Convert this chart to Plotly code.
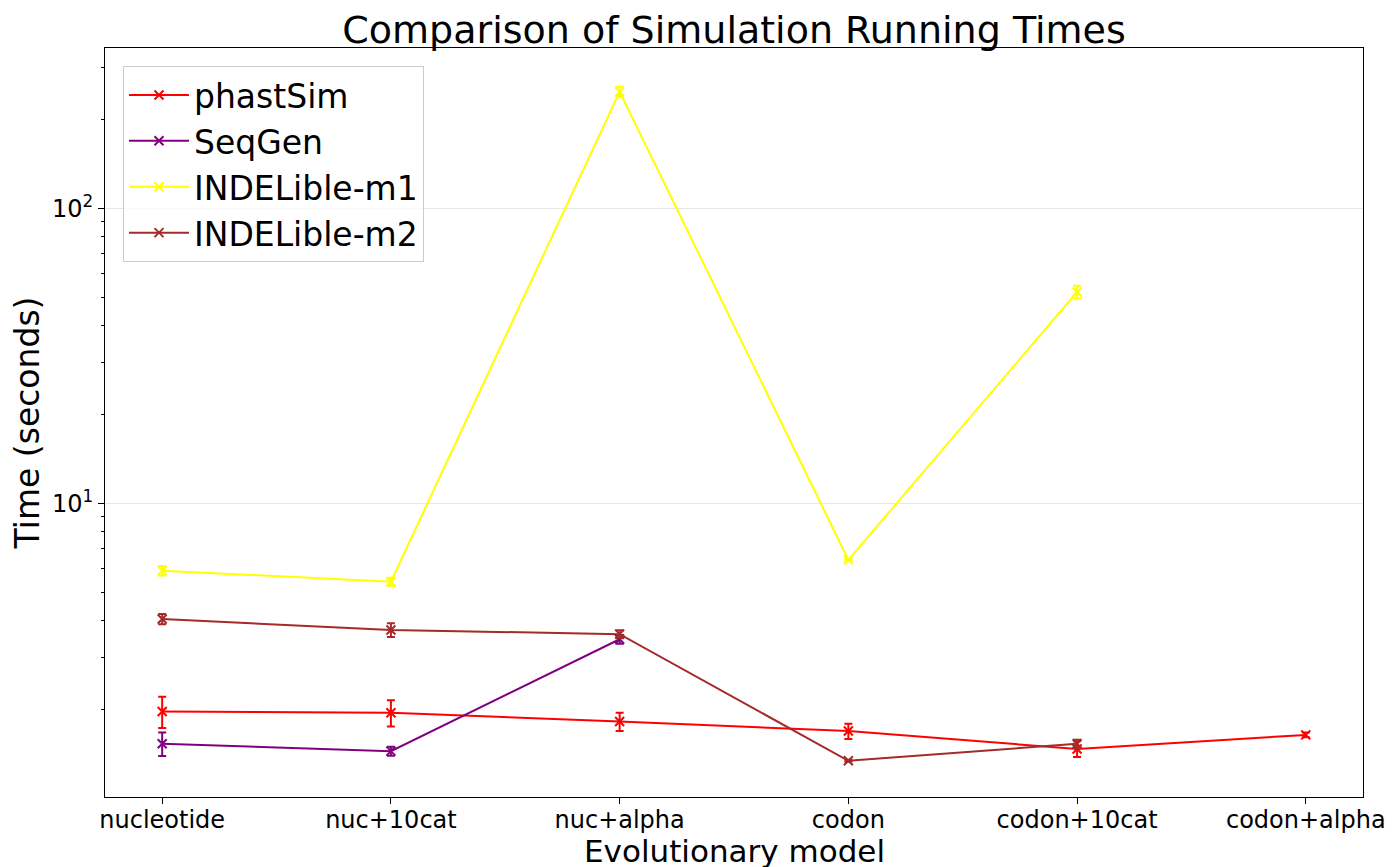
import plotly.graph_objects as go

categories = ["nucleotide", "nuc+10cat", "nuc+alpha", "codon", "codon+10cat", "codon+alpha"]

phastsim = [1.97, 1.95, 1.82, 1.69, 1.47, 1.64]
phastsim_err = [0.24, 0.20, 0.13, 0.10, 0.09, 0.03]

seqgen = [1.53, 1.445, 3.46]
seqgen_err = [0.14, 0.05, 0.12]

indelible_m1 = [5.91, 5.42, 248.0, 6.43, 52.0]
indelible_m1_err = [0.22, 0.17, 10.0, 0.05, 2.6]

indelible_m2 = [4.05, 3.72, 3.60, 1.34, 1.53]
indelible_m2_err = [0.16, 0.20, 0.11, 0.01, 0.05]

series = [
    ("phastSim", phastsim, phastsim_err, "red"),
    ("SeqGen", seqgen, seqgen_err, "purple"),
    ("INDELible-m1", indelible_m1, indelible_m1_err, "yellow"),
    ("INDELible-m2", indelible_m2, indelible_m2_err, "brown"),
]

fig = go.Figure()
for name, vals, errs, color in series:
    xs = list(range(len(vals)))
    fig.add_trace(go.Scatter(
        x=xs, y=vals, name=name, mode="lines+markers",
        line=dict(color=color, width=2),
        marker=dict(symbol="x-thin", size=9, line=dict(color=color, width=2), color=color),
        error_y=dict(type="data", array=errs, visible=True, color=color, thickness=2, width=4),
    ))

font = "DejaVu Sans, Liberation Sans, sans-serif"
fig.update_layout(
    width=1400, height=867,
    margin=dict(l=97, r=45, t=40, b=78),
    paper_bgcolor="white", plot_bgcolor="white",
    font=dict(family=font, color="black"),
    title=dict(text="Comparison of Simulation Running Times", x=0.5, xanchor="center",
               xref="paper",
               y=0.975, yanchor="middle", font=dict(size=38, family=font, color="black")),
    showlegend=True,
    legend=dict(x=0.0143, y=0.976, xanchor="left", yanchor="top",
                bgcolor="rgba(255,255,255,0.8)", bordercolor="#cccccc", borderwidth=1,
                font=dict(size=33, family=font), itemwidth=60, tracegroupgap=0),
    xaxis=dict(
        tickmode="array", tickvals=list(range(len(categories))), ticktext=categories,
        range=[-0.25, 5.25], showgrid=False, zeroline=False,
        showline=True, linecolor="black", linewidth=1, mirror=True,
        ticks="outside", ticklen=6, tickcolor="black",
        tickfont=dict(size=24, family=font), ticklabelstandoff=-5,
    ),
    yaxis=dict(
        type="log", range=[0.0044, 2.543],
        tickmode="array", tickvals=[10, 100], ticktext=["10<sup>1</sup>", "10<sup>2</sup>"],
        showgrid=True, gridcolor="#e6e6e6", gridwidth=1, zeroline=False,
        showline=True, linecolor="black", linewidth=1, mirror=True,
        ticks="outside", ticklen=6, tickcolor="black",
        tickfont=dict(size=24, family=font),
        title=dict(text="Time (seconds)", font=dict(size=33, family=font), standoff=6),
        minor=dict(tickmode="array",
                   tickvals=[2, 3, 4, 5, 6, 7, 8, 9, 20, 30, 40, 50, 60, 70, 80, 90, 200, 300],
                   ticks="outside", ticklen=3, tickcolor="black", showgrid=False),
    ),
    annotations=[dict(text="Evolutionary model", xref="paper", yref="paper",
                      x=0.5, y=-0.0715, xanchor="center", yanchor="middle",
                      showarrow=False, font=dict(size=31, family=font, color="black"))],
)

fig.write_html("out.html")
